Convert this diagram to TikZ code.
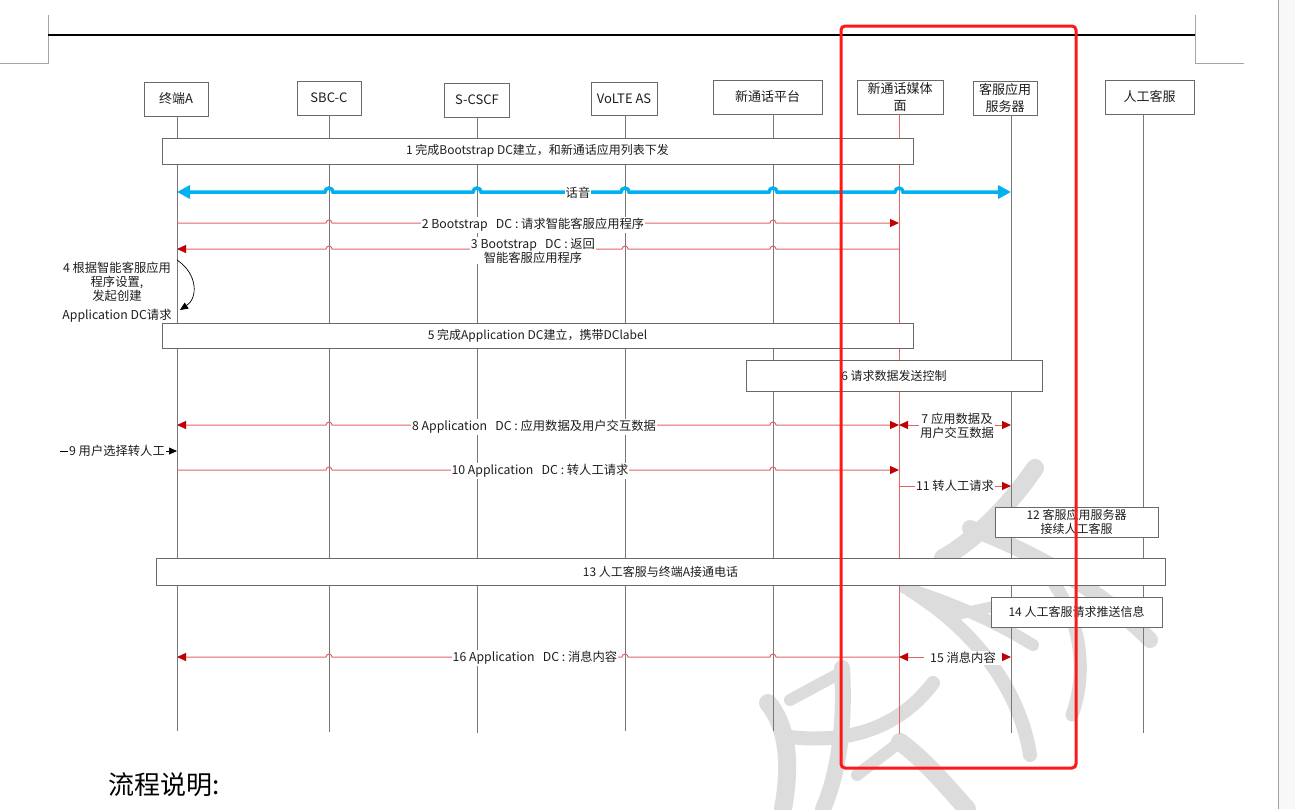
\documentclass[tikz,border=0pt]{standalone}
\usepackage{fontspec}
\setmainfont{Noto Sans CJK SC}
\usetikzlibrary{arrows.meta,calc}
\definecolor{lifegray}{RGB}{120,120,120}
\definecolor{boxgray}{RGB}{105,105,105}
\definecolor{msgred}{RGB}{228,100,100}
\definecolor{tipred}{RGB}{192,0,0}
\definecolor{voicecol}{RGB}{0,176,240}
\definecolor{wmgray}{RGB}{220,220,220}
\definecolor{hlred}{RGB}{255,24,24}
\definecolor{txtcol}{RGB}{30,30,30}
\definecolor{cropgray}{RGB}{165,165,165}
\definecolor{sidegray}{RGB}{248,248,248}
\newcommand\hopR[2]{-- ($(#1|-0,#2)+(-3,0)$) arc[start angle=180,end angle=0,radius=3pt]}
\newcommand\hopL[2]{-- ($(#1|-0,#2)+(3,0)$) arc[start angle=0,end angle=180,radius=3pt]}
\newcommand\vhop[2]{-- ($(#1|-0,#2)+(-4,0)$) arc[start angle=180,end angle=0,radius=4pt]}
\begin{document}
\begin{tikzpicture}[x=1pt,y=-1pt,
  actor/.style={draw=boxgray,line width=0.9pt,fill=white,text=txtcol,inner sep=0pt,align=center,font=\fontsize{13}{16.5}\selectfont},
  stepbox/.style={draw=boxgray,line width=0.9pt,fill=white,text=txtcol,inner sep=0pt,align=center,font=\fontsize{12}{14}\selectfont},
  life/.style={draw=lifegray,line width=0.8pt},
  redlife/.style={draw=msgred,line width=0.8pt},
  msg/.style={draw=msgred,line width=1pt},
  msgend/.style={msg,-{Triangle[length=9pt,width=8pt,color=tipred]}},
  msgboth/.style={msg,{Triangle[length=9pt,width=8pt,color=tipred]}-{Triangle[length=9pt,width=8pt,color=tipred]}},
  voiceline/.style={draw=voicecol,line width=3.5pt,{Triangle[length=13pt,width=13pt]}-{Triangle[length=13pt,width=13pt]}},
  lbl/.style={fill=white,text=txtcol,inner sep=1pt,align=center,font=\fontsize{12.3}{14}\selectfont},
  blackarrow/.style={draw=black,line width=0.7pt,-{Triangle[length=8pt,width=7pt]}},
  wm/.style={draw=wmgray,line width=16pt,line cap=round},
  crop/.style={draw=cropgray,line width=0.8pt}
]
\useasboundingbox (0,0) rectangle (1295,809);
\fill[white] (0,0) rectangle (1295,809);
\fill[sidegray] (1278,0) rectangle (1295,809);
\draw[draw=lifegray!70,line width=1pt] (1278,0) -- (1278,809);

% watermark strokes
\draw[wm,line width=18pt] (1035,468) .. controls (1010,505) and (975,540) .. (943,558);
\draw[wm] (970,528) .. controls (1040,555) and (1100,590) .. (1150,640);
\draw[wm,line width=12pt] (905,588) .. controls (960,605) and (1000,625) .. (1033,645);
\draw[wm,line width=14pt] (910,590) .. controls (975,630) and (1020,690) .. (1030,755);
\draw[wm,line width=13pt] (1055,585) .. controls (1085,630) and (1085,680) .. (1072,715);
\draw[wm,line width=11pt] (955,615) -- (1000,605);
\draw[wm,line width=18pt] (768,703) .. controls (790,730) and (790,770) .. (783,809);
\draw[wm,line width=12pt] (790,700) -- (842,672);
\draw[wm] (842,668) .. controls (845,720) and (840,770) .. (823,809);
\draw[wm,line width=14pt] (933,683) .. controls (905,720) and (860,745) .. (790,737);
\draw[wm,line width=18pt] (900,742) .. controls (925,760) and (950,790) .. (967,809);
\draw[wm,line width=12pt] (857,775) -- (900,742);

% page marks
\draw[crop] (48,15) -- (48,63) -- (0,63);
\draw[crop] (1195,15) -- (1195,63) -- (1244,63);
\draw[black,line width=2pt] (48,35) -- (1195,35);

% actors
\node[actor,minimum width=64pt,minimum height=34pt] (A) at (176,99) {终端A};
\node[actor,minimum width=64pt,minimum height=34pt] (B) at (329,98) {SBC-C};
\node[actor,minimum width=65pt,minimum height=34pt] (C) at (477,100) {S-CSCF};
\node[actor,minimum width=66pt,minimum height=33pt] (D) at (624,98.5) {VoLTE AS};
\node[actor,minimum width=109pt,minimum height=34pt] (E) at (767.5,97) {新通话平台};
\node[actor,minimum width=86pt,minimum height=34pt] (F) at (900,97) {新通话媒体\\面};
\node[actor,minimum width=64pt,minimum height=34pt] (G) at (1005,98) {客服应用\\服务器};
\node[actor,minimum width=89pt,minimum height=34pt] (H) at (1149.5,97) {人工客服};

\coordinate (lA) at (177,116);
\coordinate (lB) at (329,115);
\coordinate (lC) at (477,117);
\coordinate (lD) at (625,115);
\coordinate (lE) at (773,114);
\coordinate (lF) at (899,114);
\coordinate (lG) at (1011,115);
\coordinate (lH) at (1143,114);

\draw[life] (lA) -- (lA|-0,731);
\draw[life] (lB) -- (lB|-0,732);
\draw[life] (lC) -- (lC|-0,733);
\draw[life] (lD) -- (lD|-0,731);
\draw[life] (lE) -- (lE|-0,731);
\draw[redlife] (lF) -- (lF|-0,734);
\draw[life] (lG) -- (lG|-0,733);
\draw[life] (lH) -- (lH|-0,733);

% step boxes
\node[stepbox,minimum width=751pt,minimum height=26pt] (s1) at (537.5,151) {1 完成Bootstrap DC建立，和新通话应用列表下发};
\node[stepbox,minimum width=751pt,minimum height=25pt] (s5) at (537.5,335.5) {5 完成Application DC建立，携带DClabel};
\node[stepbox,minimum width=296pt,minimum height=31pt] (s6) at (894,375.5) {6 请求数据发送控制};
\node[stepbox,minimum width=163pt,minimum height=30pt] (s12) at (1076.5,522) {12 客服应用服务器\\接续人工客服};
\node[stepbox,minimum width=1009pt,minimum height=27pt] (s13) at (660.5,571.5) {13 人工客服与终端A接通电话};
\node[stepbox,minimum width=171pt,minimum height=30pt] (s14) at (1076.5,612) {14 人工客服请求推送信息};

% voice
\draw[voiceline] (lA|-0,192) \vhop{lB}{192} \vhop{lC}{192} \vhop{lD}{192} \vhop{lE}{192} \vhop{lF}{192} -- (lG|-0,192);
\node[lbl] (lv) at (578,193) {话音};

% 2
\draw[msgend] (lA|-0,223) \hopR{lB}{223} \hopR{lC}{223} \hopR{lD}{223} \hopR{lE}{223} -- (lF|-0,223);
\node[lbl] (l2) at (533,225) {2 Bootstrap\ \ \ DC : 请求智能客服应用程序};
% 3
\draw[msgend] (lF|-0,249) \hopL{lE}{249} \hopL{lD}{249} \hopL{lC}{249} \hopL{lB}{249} -- (lA|-0,249);
\node[lbl] (l3) at (533,250.5) {3 Bootstrap\ \ \ DC : 返回\\智能客服应用程序};

% 4
\coordinate (c4e) at (180,310);
\draw[blackarrow] (lA|-0,260) .. controls (198,274) and (198,298) .. (c4e);
\node[lbl,fill=none] (l4) at (117,281.5) {4 根据智能客服应用\\程序设置,\\发起创建};
\node[lbl,fill=none] (l4b) at (117,316) {Application DC请求};

% 8 and 7
\draw[msgboth] (lA|-0,425) \hopR{lB}{425} \hopR{lC}{425} \hopR{lD}{425} \hopR{lE}{425} -- (lF|-0,425);
\node[lbl] (l8) at (534,427) {8 Application\ \ \ DC : 应用数据及用户交互数据};
\draw[msgboth] (lF|-0,425) -- (lG|-0,425);
\node[lbl] (l7) at (957,426) {7 应用数据及\\用户交互数据};

% 9
\coordinate (c9) at (60,451);
\draw[blackarrow] (c9) -- (lA|-0,451);
\node[lbl] (l9) at (117,451) {9 用户选择转人工};

% 10 and 11
\draw[msgend] (lA|-0,470) \hopR{lB}{470} \hopR{lC}{470} \hopR{lD}{470} \hopR{lE}{470} -- (lF|-0,470);
\node[lbl] (l10) at (540,471) {10 Application\ \ \ DC : 转人工请求};
\draw[msgend] (lF|-0,486) -- (lG|-0,486);
\node[lbl] (l11) at (955,486) {11 转人工请求};

% 15 and 16
\draw[msgboth] (lF|-0,657) -- (lG|-0,657);
\node[lbl,inner xsep=6pt] (l15) at (963,658) {15 消息内容};
\draw[msgend] (lF|-0,657) \hopL{lE}{657} \hopL{lD}{657} \hopL{lC}{657} \hopL{lB}{657} -- (lA|-0,657);
\node[lbl] (l16) at (535,658) {16 Application\ \ \ DC : 消息内容};

% footer text
\node[anchor=west,inner sep=0pt,font=\fontsize{26}{30}\selectfont] (fl) at (108,785) {流程说明:};

% highlight
\draw[hlred,line width=3pt,rounded corners=4pt] (841,26) rectangle (1076,768);
\end{tikzpicture}
\end{document}
